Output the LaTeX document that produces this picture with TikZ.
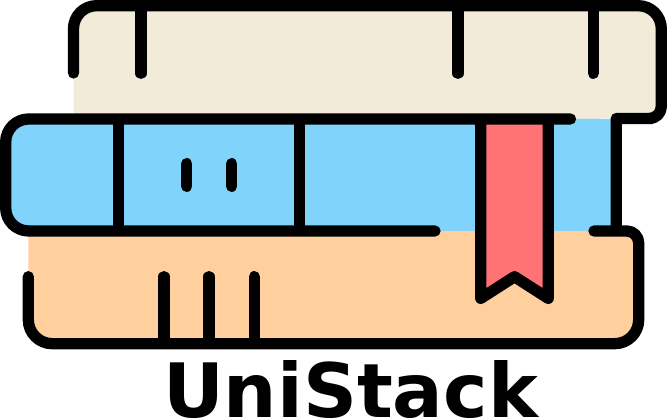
\documentclass[tikz,border=0pt]{standalone}
\usepackage{fontspec}
\setmainfont{DejaVu Sans}
\definecolor{creamc}{HTML}{F2EBD9}
\definecolor{bluec}{HTML}{80D4FC}
\definecolor{orangec}{HTML}{FFCF9E}
\definecolor{redc}{HTML}{FF7377}
\tikzset{ink/.style={draw=black,line width=11.3pt,line cap=round,line join=round}}
\begin{document}
\begin{tikzpicture}[x=1pt,y=-1pt]
\useasboundingbox (0,0) rectangle (667,419);
% fills
\fill[creamc] (73.5,125) -- (73.5,60) [rounded corners=23pt] -- (73.5,5.7) -- (661.3,5.7) -- (661.3,60) [rounded corners=12pt] -- (661.3,118.5) -- (640,118.5) [sharp corners] -- (600,118.5) -- (600,125) -- cycle;
\fill[bluec] (5.7,175) [rounded corners=23pt] -- (5.7,119) -- (590,119) [sharp corners] -- (616.3,119) -- (616.3,231) -- (40,231) [rounded corners=23pt] -- (5.7,231) -- cycle;
\fill[orangec] (28.3,231) -- (600,231) [rounded corners=12pt] -- (638.7,231) -- (638.7,290) [rounded corners=24pt] -- (638.7,343.7) -- (28.3,343.7) -- (28.3,300) [sharp corners] -- cycle;
\fill[redc] (480.7,119) -- (548.3,119) -- (548.3,298.4) -- (514.5,276.7) -- (480.7,298.4) -- cycle;
% top book
\draw[ink] (73.5,73) [rounded corners=23pt] -- (73.5,5.7) -- (661.3,5.7) -- (661.3,60) [rounded corners=12pt] -- (661.3,118.5) -- (640,118.5) [sharp corners] -- (616.3,118.5) -- (616.3,226);
\draw[ink] (141,8) -- (141,73.3);
\draw[ink] (458,8) -- (458,73.3);
\draw[ink] (593.3,8) -- (593.3,73.3);
% middle book
\draw[ink] (570.5,119) -- (100,119) [rounded corners=23pt] -- (5.7,119) -- (5.7,231) -- (435,231);
\draw[ink] (118.8,122) -- (118.8,228);
\draw[ink] (299.7,122) -- (299.7,228);
\draw[ink] (186.7,163.7) -- (186.7,186.3);
\draw[ink] (231.7,163.7) -- (231.7,186.3);
% bottom book
\draw[ink] (594,231) [rounded corners=12pt] -- (638.7,231) -- (638.7,290) [rounded corners=24pt] -- (638.7,343.7) -- (28.3,343.7) -- (28.3,276.7);
\draw[ink] (164,276.7) -- (164,341);
\draw[ink] (209,276.7) -- (209,341);
\draw[ink] (254.3,276.7) -- (254.3,341);
% bookmark
\draw[ink] (480.7,122) -- (480.7,298.4) -- (514.5,276.7) -- (548.3,298.4) -- (548.3,122);
% title
\node[anchor=base,inner sep=0pt] (title) at (350.5,418) {\fontsize{75pt}{75pt}\selectfont\bfseries UniStack};
\end{tikzpicture}
\end{document}
